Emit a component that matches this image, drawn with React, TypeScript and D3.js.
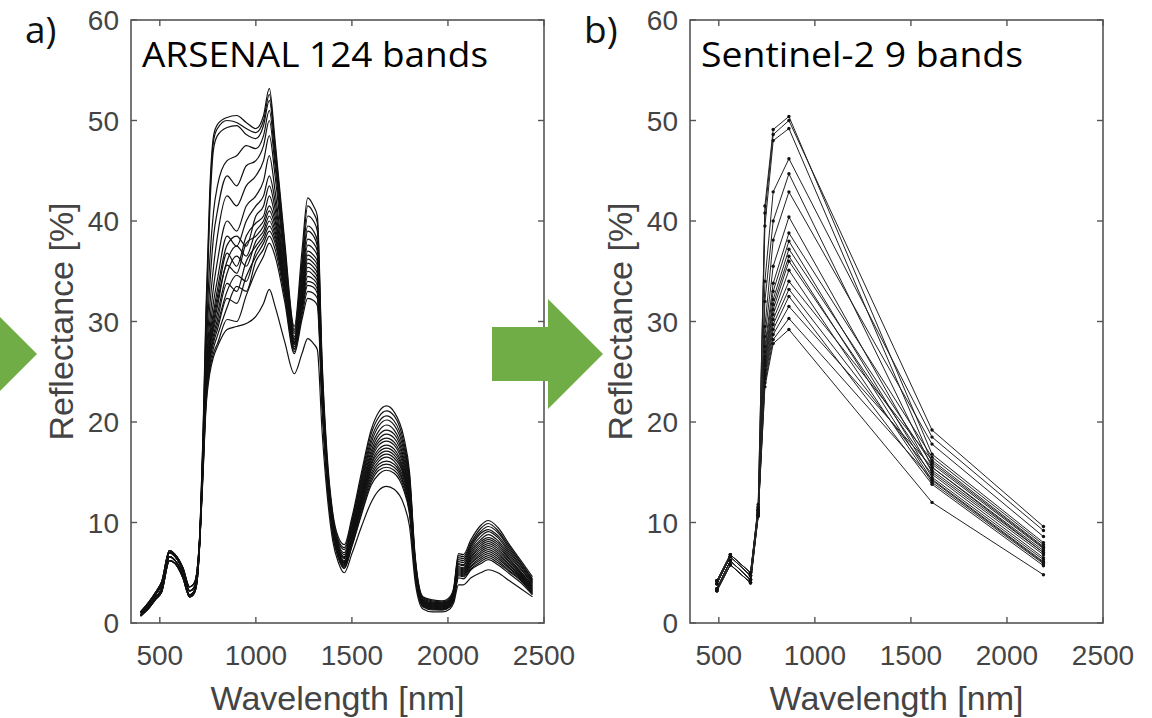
import React from 'react';
import * as d3 from 'd3';

// ---------- data ----------
const WAVELENGTH_ARSENAL = [400,440,480,510,550,580,620,655,680,695,710,725,740,760,780,800,850,900,950,1000,1040,1070,1100,1150,1200,1240,1270,1300,1320,1345,1370,1400,1430,1460,1500,1550,1600,1640,1680,1720,1770,1800,1830,1870,1920,1970,2010,2030,2055,2080,2120,2170,2210,2260,2320,2380,2440];
const WAVELENGTH_SENTINEL = [490,560,665,705,740,783,865,1610,2190];

const X_TICKS = [500,1000,1500,2000,2500];
const Y_TICKS = [0,10,20,30,40,50,60];

const arsenal01 = [0.8,1.6,2.6,3.4,6.6,6.2,4.8,2.8,3.2,4.6, 9.5,19,31,43,48.5,49.6, 50.3,50.5,49.8,49.2,50.5,53.2,48,38,29.5,37,42.3,41.5,40.5,26,17,11,8.5,7.8,10.5,15,19.2,21,21.6,21,18.5,15,6.5,2.6,2.3,2.2,2.6,3.5,6.9,6.8,8.3,9.7,10.2,9.5,7.8,6.2,4.6];
const arsenal02 = [1.0,1.8,2.9,3.8,7.0,6.6,5.2,3.2,3.6,5.0, 9.8,18.5,30,42,48,49.2, 50.0,49.8,49.2,48.8,50,52.6,47.5,37.5,29.2,36,41.5,40.8,39.8,25.5,16.5,10.8,8.2,7.5,10.2,14.6,18.8,20.5,21.1,20.6,18,14.6,6.3,2.5,2.2,2.1,2.5,3.4,6.7,6.6,8.0,9.4,9.9,9.2,7.6,6.0,4.4];
const arsenal03 = [0.8,1.6,2.6,3.4,6.6,6.2,4.8,2.8,3.2,4.6, 9.2,18,29,41,47.2,48.5, 49.3,49.5,48.6,48.2,49.5,52,47,37,29,35.5,40.5,40,39,25,16.2,10.5,8,7.3,10,14.3,18.3,20,20.6,20.1,17.6,14.3,6.1,2.4,2.1,2.0,2.4,3.3,6.5,6.4,7.8,9.1,9.6,9.0,7.4,5.9,4.3];
const arsenal04 = [0.7,1.4,2.4,3.1,6.2,5.9,4.5,2.6,3.0,4.3, 9,17.5,27,36,41,43.5, 46,46.5,47.5,47.2,48.5,51,46.2,36.5,28.8,35,39.5,39,38,24.5,16,10.3,7.8,7.0,9.7,14,17.9,19.6,20.2,19.7,17.2,14,6.0,2.3,2.0,2.0,2.3,3.2,6.3,6.2,7.6,8.9,9.3,8.7,7.2,5.7,4.2];
const arsenal05 = [1.1,2.0,3.1,4.1,7.2,6.8,5.5,3.6,4.0,5.4, 9.6,17.8,26.5,33.5,38.5,41, 44.5,43.5,45.5,46,47.5,50,45.5,36,28.5,34.5,39,38.5,37.5,24.2,15.8,10.2,7.7,6.8,9.5,13.7,17.5,19.1,19.7,19.2,16.8,13.7,5.9,2.3,2.0,1.9,2.3,3.1,6.1,6.0,7.4,8.6,9.1,8.5,7.0,5.6,4.1];
const arsenal06 = [0.8,1.6,2.6,3.4,6.6,6.2,4.8,2.8,3.2,4.6, 9.0,17.2,25.5,31.5,35.5,38.5, 42.5,41.5,43.5,44.5,46,48.5,44.5,35.5,28.3,34,38.2,37.8,37,24,15.6,10.0,7.5,6.6,9.3,13.4,17.1,18.7,19.2,18.8,16.4,13.4,5.8,2.2,1.9,1.9,2.2,3.0,5.9,5.8,7.2,8.3,8.8,8.2,6.8,5.4,4.0];
const arsenal07 = [1.0,1.8,2.9,3.8,7.0,6.6,5.2,3.2,3.6,5.0, 9.3,17,25,30,33.5,36, 40,39,41.5,42.5,44,46.5,43,35,28.2,33.5,37.6,37.2,36.5,23.8,15.5,9.9,7.4,6.5,9.1,13.1,16.8,18.3,18.8,18.4,16.1,13.1,5.7,2.2,1.9,1.8,2.2,2.9,5.8,5.7,7.0,8.1,8.5,8.0,6.6,5.3,3.9];
const arsenal08 = [0.7,1.4,2.4,3.1,6.2,5.9,4.5,2.6,3.0,4.3, 8.8,16.5,24.5,29,32,34.2, 38.5,37.5,40,41.5,42.5,44.5,42,34.5,28,33,37,36.6,36,23.5,15.3,9.8,7.3,6.4,8.9,12.9,16.5,18.0,18.4,18.0,15.8,12.9,5.6,2.1,1.8,1.8,2.1,2.9,5.6,5.5,6.8,7.9,8.3,7.8,6.4,5.1,3.8];
const arsenal09 = [1.1,2.0,3.1,4.1,7.2,6.8,5.5,3.6,4.0,5.4, 9.4,16.8,24,28.5,31,33.2, 37.6,38.5,37.5,40.5,41.5,43.5,41.2,34.2,28,32.8,36.6,36.2,35.6,23.3,15.2,9.7,7.2,6.2,8.7,12.7,16.2,17.7,18.1,17.7,15.5,12.7,5.5,2.1,1.8,1.7,2.1,2.8,5.5,5.4,6.6,7.7,8.1,7.6,6.3,5.0,3.7];
const arsenal10 = [0.8,1.6,2.6,3.4,6.6,6.2,4.8,2.8,3.2,4.6, 8.9,16.4,23.8,28,30.5,32.5, 36.8,35.5,38.5,39.8,40.5,42.5,40.5,34,27.9,32.5,36.2,35.8,35.2,23.2,15.1,9.6,7.1,6.1,8.6,12.5,15.9,17.3,17.7,17.3,15.2,12.5,5.4,2.0,1.7,1.7,2.0,2.8,5.4,5.3,6.5,7.5,7.9,7.4,6.1,4.9,3.6];
const arsenal11 = [1.0,1.8,2.9,3.8,7.0,6.6,5.2,3.2,3.6,5.0, 9.2,16.2,23.5,27.6,30,32, 36,37.5,36.5,39,40,41.5,40,33.8,27.8,32.2,35.8,35.4,34.8,23,15,9.5,7.0,6.0,8.5,12.3,15.7,17.0,17.4,17.0,15.0,12.3,5.3,2.0,1.7,1.6,2.0,2.7,5.3,5.2,6.3,7.3,7.7,7.2,6.0,4.8,3.5];
const arsenal12 = [0.7,1.4,2.4,3.1,6.2,5.9,4.5,2.6,3.0,4.3, 8.7,16,23.2,27.3,29.6,31.5, 35.6,34.8,37.8,38.5,39.5,41,39.5,33.6,27.8,32,35.4,35,34.4,22.8,14.9,9.4,7.0,6.0,8.4,12.1,15.4,16.7,17.1,16.7,14.8,12.1,5.2,1.9,1.6,1.6,1.9,2.6,5.2,5.1,6.2,7.1,7.5,7.0,5.8,4.7,3.4];
const arsenal13 = [1.1,2.0,3.1,4.1,7.2,6.8,5.5,3.6,4.0,5.4, 9.3,16.1,23,27,29.2,30.8, 34.8,36.5,35.5,38,39,40.5,39,33.4,27.7,31.8,35,34.6,34,22.6,14.8,9.3,6.9,5.9,8.3,11.9,15.2,16.4,16.8,16.4,14.6,11.9,5.1,1.9,1.6,1.5,1.9,2.6,5.1,5.0,6.0,6.9,7.3,6.8,5.7,4.6,3.3];
const arsenal14 = [0.8,1.6,2.6,3.4,6.6,6.2,4.8,2.8,3.2,4.6, 8.8,15.8,22.8,26.6,28.7,30.2, 33.8,33,36,37.5,38.6,40,38.6,33.2,27.5,31.5,34.5,34.2,33.6,22.4,14.6,9.2,6.8,5.8,8.1,11.7,14.9,16.1,16.5,16.1,14.3,11.7,5.0,1.8,1.5,1.5,1.8,2.5,5.0,4.9,5.9,6.7,7.1,6.6,5.5,4.5,3.2];
const arsenal15 = [1.0,1.8,2.9,3.8,7.0,6.6,5.2,3.2,3.6,5.0, 9.1,15.6,22.5,26.3,28.3,29.7, 33,34.6,34,37,38.2,39.5,38.2,33,27.3,31.2,34,33.8,33.2,22.2,14.5,9.1,6.7,5.7,8.0,11.5,14.6,15.8,16.1,15.8,14.0,11.5,4.9,1.8,1.5,1.4,1.8,2.4,4.9,4.8,5.7,6.5,6.9,6.4,5.4,4.4,3.1];
const arsenal16 = [0.7,1.4,2.4,3.1,6.2,5.9,4.5,2.6,3.0,4.3, 8.6,15.4,22.2,26,27.9,29.2, 32.3,31.8,34.5,36.5,37.8,39,37.8,32.8,27.2,31,33.6,33.4,32.8,22,14.4,9.0,6.6,5.6,7.9,11.3,14.3,15.5,15.8,15.5,13.8,11.3,4.8,1.7,1.4,1.4,1.7,2.4,4.8,4.7,5.6,6.3,6.7,6.2,5.2,4.3,3.0];
const arsenal17 = [1.1,2.0,3.1,4.1,7.2,6.8,5.5,3.6,4.0,5.4, 9.2,15.3,22,25.6,27.4,28.6, 31.4,33.5,33,36,37.2,38.5,37.2,32.5,27,30.6,33,32.8,32.3,21.8,14.3,8.9,6.5,5.5,7.7,11.0,14.0,15.2,15.5,15.2,13.5,11.0,4.7,1.7,1.4,1.3,1.7,2.3,4.7,4.6,5.4,6.1,6.5,6.0,5.1,4.2,2.9];
const arsenal18 = [0.8,1.6,2.6,3.4,6.6,6.2,4.8,2.8,3.2,4.6, 8.7,15,21.6,25.2,26.9,27.8, 30.2,30,32.6,35,36.5,37.8,36.5,32,26.8,30.2,32.3,32.1,31.6,21.5,14.1,8.8,6.4,5.4,7.6,10.8,13.7,14.8,15.2,14.9,13.2,10.8,4.6,1.6,1.3,1.3,1.6,2.2,4.5,4.4,5.3,5.9,6.3,5.8,4.9,4.0,2.8];
const arsenal19 = [1.0,1.8,2.9,3.8,7.0,6.6,5.2,3.2,3.6,5.0, 8.8,14.8,21.2,24.8,26.5,27.5, 29.2,29.5,29.8,30.5,31.8,33.2,31.5,28,24.8,26.8,28.3,27.8,27.2,19,13,8.2,6.0,5.0,6.9,9.6,12.0,13.2,13.6,13.3,11.8,9.6,4.0,1.4,1.1,1.1,1.4,2.0,3.8,3.8,4.5,5.0,5.3,5.0,4.2,3.4,2.6];

const ARSENAL = [arsenal01,arsenal02,arsenal03,arsenal04,arsenal05,arsenal06,arsenal07,arsenal08,arsenal09,arsenal10,arsenal11,arsenal12,arsenal13,arsenal14,arsenal15,arsenal16,arsenal17,arsenal18,arsenal19];

const sentinel01 = [3.4,6.2,4.3,11.5,41.5,49.1,50.4,16.8,8.0];
const sentinel02 = [3.9,6.6,4.7,11.8,40.8,48.6,50.0,19.2,9.6];
const sentinel03 = [3.4,6.2,4.3,11.2,39.5,48.0,49.2,16.0,7.5];
const sentinel04 = [3.2,5.8,4.0,11.0,34,42.9,46.2,18.5,9.2];
const sentinel05 = [4.2,6.8,5.0,11.6,32,40,44.7,15.5,7.0];
const sentinel06 = [3.4,6.2,4.3,11.0,29.5,38.1,42.9,17.8,8.6];
const sentinel07 = [3.9,6.6,4.7,11.3,28.5,35.5,40.4,15.0,6.8];
const sentinel08 = [3.2,5.8,4.0,10.8,27.5,33.8,38.8,16.5,7.8];
const sentinel09 = [4.2,6.8,5.0,11.4,27,33,38.0,14.5,6.3];
const sentinel10 = [3.4,6.2,4.3,10.9,26.5,32.2,37.2,15.8,7.4];
const sentinel11 = [3.9,6.6,4.7,11.2,26.2,31.7,36.5,14.2,6.0];
const sentinel12 = [3.2,5.8,4.0,10.7,25.9,31.2,36.0,15.2,7.0];
const sentinel13 = [4.2,6.8,5.0,11.3,25.6,30.7,35.1,14.0,5.9];
const sentinel14 = [3.4,6.2,4.3,10.8,25.2,30.2,34.0,16.2,7.6];
const sentinel15 = [3.9,6.6,4.7,11.1,24.9,29.7,33.2,14.8,6.5];
const sentinel16 = [3.2,5.8,4.0,10.6,24.6,29.2,32.5,13.8,5.7];
const sentinel17 = [4.2,6.8,5.0,11.2,24.3,28.7,31.5,15.5,7.2];
const sentinel18 = [3.4,6.2,4.3,10.7,23.9,28.2,30.3,14.3,6.1];
const sentinel19 = [3.9,6.6,4.7,10.8,23.5,27.8,29.2,12.0,4.8];

const SENTINEL = [sentinel01,sentinel02,sentinel03,sentinel04,sentinel05,sentinel06,sentinel07,sentinel08,sentinel09,sentinel10,sentinel11,sentinel12,sentinel13,sentinel14,sentinel15,sentinel16,sentinel17,sentinel18,sentinel19];

const X_DOMAIN = [350, 2500];
const Y_DOMAIN = [0, 60];

// ---------- layout ----------
const TOP = 20;
const BOTTOM = 623;
const PANEL_W = 413;
const AXIS_COLOR = '#555';
const TEXT_COLOR = '#444';
const GREEN = '#70AD47';
const AXIS_FONT = '"Liberation Sans", Arial, sans-serif';
const TITLE_FONT = '"Open Sans", "Noto Sans", sans-serif';

type PanelProps = {
  left: number;
  wl: number[];
  spectra: number[][];
  title: string;
  titleWidth: number;
  letter: string;
  markers: boolean;
  smooth: boolean;
};

function Panel({ left, wl, spectra, title, titleWidth, letter, markers, smooth }: PanelProps) {
  const x = d3.scaleLinear().domain(X_DOMAIN).range([left, left + PANEL_W]);
  const y = d3.scaleLinear().domain(Y_DOMAIN).range([BOTTOM, TOP]);
  const line = d3
    .line<number>()
    .x((_, i) => x(wl[i]))
    .y((d) => y(d))
    .curve(smooth ? d3.curveMonotoneX : d3.curveLinear);
  const tick = 6;
  return (
    <g>
      <g fill="none" stroke={markers ? '#222' : '#111'} strokeWidth={markers ? 1 : 1.2} strokeLinejoin="round">
        {spectra.map((s, k) => (
          <path key={k} d={line(s) || ''} />
        ))}
      </g>
      {markers && (
        <g fill="#111">
          {spectra.map((s, k) =>
            s.map((v, i) => <circle key={k + '-' + i} cx={x(wl[i])} cy={y(v)} r={1.7} />)
          )}
        </g>
      )}
      <rect x={left} y={TOP} width={PANEL_W} height={BOTTOM - TOP} fill="none" stroke={AXIS_COLOR} strokeWidth={1.6} />
      <g stroke={AXIS_COLOR} strokeWidth={1.4}>
        {X_TICKS.map((t) => (
          <g key={'xt' + t}>
            <line x1={x(t)} x2={x(t)} y1={BOTTOM} y2={BOTTOM - tick} />
            <line x1={x(t)} x2={x(t)} y1={TOP} y2={TOP + tick} />
          </g>
        ))}
        {Y_TICKS.map((t) => (
          <g key={'yt' + t}>
            <line x1={left} x2={left + tick} y1={y(t)} y2={y(t)} />
            <line x1={left + PANEL_W} x2={left + PANEL_W - tick} y1={y(t)} y2={y(t)} />
          </g>
        ))}
      </g>
      <g fill={TEXT_COLOR} fontFamily={AXIS_FONT} fontSize={28}>
        {X_TICKS.map((t) => (
          <text key={'xl' + t} x={x(t)} y={665} textAnchor="middle">
            {t}
          </text>
        ))}
        {Y_TICKS.map((t) => (
          <text key={'yl' + t} x={left - 12} y={y(t) + 10} textAnchor="end">
            {t}
          </text>
        ))}
      </g>
      <text x={left + PANEL_W / 2} y={710} textAnchor="middle" fill={TEXT_COLOR} fontFamily={AXIS_FONT} fontSize={34}>
        Wavelength [nm]
      </text>
      <text
        transform={`translate(${left - 58},${(TOP + BOTTOM) / 2}) rotate(-90)`}
        textAnchor="middle"
        fill={TEXT_COLOR}
        fontFamily={AXIS_FONT}
        fontSize={34}
      >
        Reflectance [%]
      </text>
      <text
        x={left + 11}
        y={67}
        fill="#000"
        fontFamily={TITLE_FONT}
        fontSize={35}
        textLength={titleWidth}
        lengthAdjust="spacingAndGlyphs"
      >
        {title}
      </text>
      <text x={left - 106} y={43} fill="#111" fontFamily={TITLE_FONT} fontSize={37}>
        {letter}
      </text>
    </g>
  );
}

function Arrow({ dx }: { dx: number }) {
  const pts: [number, number][] = [
    [492, 327],
    [548, 327],
    [548, 299],
    [603, 354],
    [548, 409],
    [548, 381],
    [492, 381],
  ];
  const d = d3.line()(pts.map(([px, py]) => [px + dx, py]) as [number, number][]) + 'Z';
  return <path d={d} fill={GREEN} />;
}

export default function App() {
  return (
    <svg
      width={1152}
      height={718}
      viewBox="0 0 1152 718"
      style={{ position: 'absolute', left: 0, top: 0, background: '#fff' }}
    >
      <rect x={0} y={0} width={1152} height={718} fill="#fff" />
      <Panel
        left={131}
        wl={WAVELENGTH_ARSENAL}
        spectra={ARSENAL}
        title="ARSENAL 124 bands"
        titleWidth={346}
        letter="a)"
        markers={false}
        smooth={true}
      />
      <Panel
        left={690}
        wl={WAVELENGTH_SENTINEL}
        spectra={SENTINEL}
        title="Sentinel-2 9 bands"
        titleWidth={322}
        letter="b)"
        markers={true}
        smooth={false}
      />
      <Arrow dx={-566} />
      <Arrow dx={0} />
    </svg>
  );
}
